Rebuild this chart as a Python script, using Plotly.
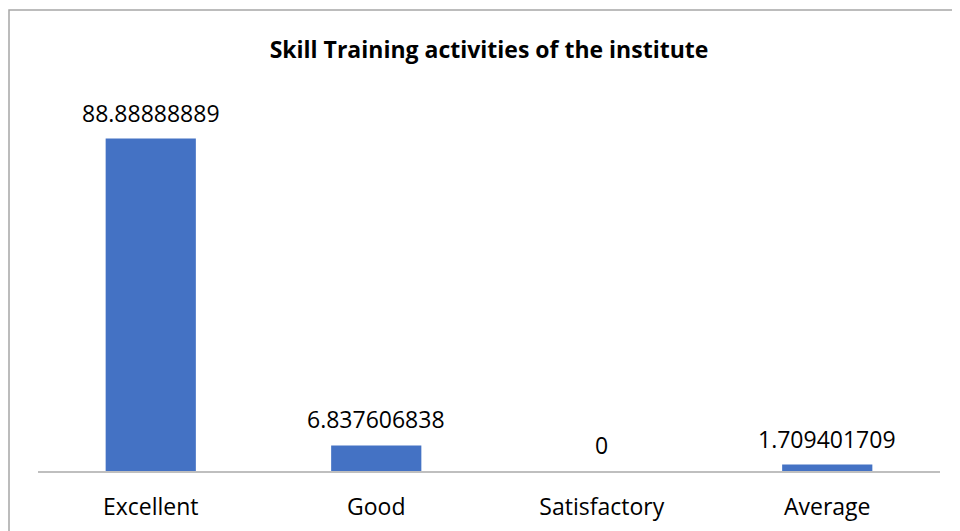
"""Skill Training activities bar chart."""

import plotly.graph_objects as go

categories = ["Excellent", "Good", "Satisfactory", "Average"]
percentages = [88.88888889, 6.837606838, 0, 1.709401709]
value_labels = ["88.88888889", "6.837606838", "0", "1.709401709"]

# page body has an 8px margin, so the figure sits 8px right/down in the window
W, H = 952, 531
M_L, M_R, M_T, M_B = 30, 20, 89, 68
plot_w = W - M_L - M_R
plot_h = H - M_T - M_B

FONT = "Open Sans, sans-serif"

fig = go.Figure(go.Bar(
    x=categories,
    y=percentages,
    marker=dict(color="#4472C4", line=dict(width=0)),
    hovertemplate="<b>%{x}</b><br>%{y}<extra></extra>",
))

# data labels above each bar
for cat, val, lab in zip(categories, percentages, value_labels):
    fig.add_annotation(
        x=cat, y=val, text=lab, showarrow=False,
        yanchor="middle", yshift=26,
        font=dict(family=FONT, size=23, color="#000000"),
    )

# outer chart frame
fig.add_shape(
    type="rect", xref="paper", yref="paper",
    x0=(1 - M_L) / plot_w, x1=(W + 10 - M_L) / plot_w,
    y0=-(M_B + 10) / plot_h, y1=(plot_h + M_T - 2) / plot_h,
    line=dict(color="#A6A6A6", width=1.5), fillcolor="rgba(0,0,0,0)",
)

fig.update_layout(
    width=W, height=H,
    paper_bgcolor="white", plot_bgcolor="white",
    font=dict(family=FONT, size=23, color="#000000"),
    margin=dict(l=M_L, r=M_R, t=M_T, b=M_B),
    showlegend=False,
    bargap=0.6,
    title=dict(
        text="<b>Skill Training activities of the institute</b>",
        x=(M_L + plot_w / 2) / W, xanchor="center",
        y=1 - 42 / H, yanchor="middle",
        font=dict(family=FONT, size=23, color="#000000"),
    ),
    xaxis=dict(
        showline=True, linecolor="#BFBFBF", linewidth=1.5,
        showgrid=False, zeroline=False,
        ticks="outside", ticklen=15, tickcolor="rgba(0,0,0,0)",
        tickfont=dict(size=23, color="#000000"),
    ),
    yaxis=dict(
        range=[0, 100], visible=False, showgrid=False, zeroline=False,
    ),
)

fig.write_html("out.html")
